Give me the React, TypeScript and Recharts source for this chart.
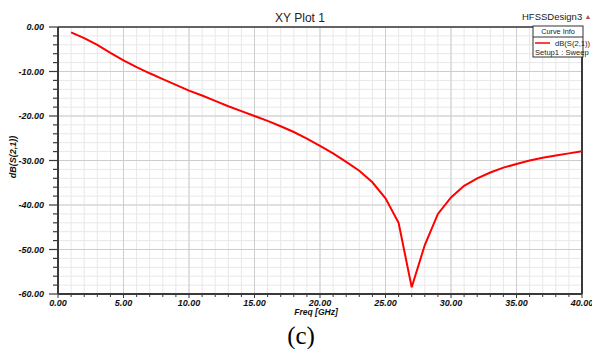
import React from 'react';
import { LineChart, Line, XAxis, YAxis, CartesianGrid, ReferenceLine } from 'recharts';

const freqGHz = [1, 2, 3, 4, 5, 6, 7, 8, 9, 10, 11, 12, 13, 14, 15, 16, 17, 18, 19, 20, 21, 22, 23, 24, 25, 26, 27, 28, 29, 30, 31, 32, 33, 34, 35, 36, 37, 38, 39, 40];
const dbS21 = [-1.2, -2.5, -4.0, -5.8, -7.5, -9.0, -10.4, -11.7, -13.0, -14.3, -15.4, -16.6, -17.8, -18.9, -20.0, -21.1, -22.3, -23.6, -25.1, -26.7, -28.4, -30.3, -32.3, -34.9, -38.5, -44.0, -58.5, -49.0, -42.0, -38.3, -35.7, -34.0, -32.7, -31.6, -30.8, -30.0, -29.4, -28.9, -28.4, -27.9];

const majorXTicks = [0, 5, 10, 15, 20, 25, 30, 35, 40];
const allXTicks = Array.from({ length: 41 }, (_, i) => i);
const majorYTicks = [-60, -50, -40, -30, -20, -10, 0];
const allYTicks = Array.from({ length: 31 }, (_, i) => -60 + i * 2);

const title = 'XY Plot 1';
const designName = 'HFSSDesign3';
const legendTitle = 'Curve Info';
const seriesName = 'dB(S(2,1))';
const setupName = 'Setup1 : Sweep';
const xLabel = 'Freq [GHz]';
const yLabel = 'dB(S(2,1))';
const caption = '(c)';

const data = freqGHz.map((f, i) => ({ f, v: dbS21[i] }));

const FONT = '"Liberation Sans", Arial, sans-serif';
const AXIS = '#3a3a3a';

const XTick = (props: any) => {
  const { x, y, payload } = props;
  const v = payload.value;
  const major = majorXTicks.includes(v);
  const axisY = y - 6;
  return (
    <g>
      <line x1={x} x2={x} y1={axisY} y2={axisY + (major ? 4 : 3)} stroke={AXIS} strokeWidth={1} />
      {major && (
        <text x={x} y={y} dy="0.71em" textAnchor="middle" fontFamily={FONT} fontSize={9} fontWeight="bold" fontStyle="italic" fill="#111">
          {v.toFixed(2)}
        </text>
      )}
    </g>
  );
};

const YTick = (props: any) => {
  const { x, y, payload } = props;
  const v = payload.value;
  const major = majorYTicks.includes(v);
  const axisX = x + 14;
  return (
    <g>
      <line x1={axisX - (major ? 9 : 5)} x2={axisX} y1={y} y2={y} stroke={AXIS} strokeWidth={1.2} />
      {major && (
        <text x={x} y={y} dy="0.355em" textAnchor="end" fontFamily={FONT} fontSize={9} fontWeight="bold" fontStyle="italic" fill="#111">
          {v.toFixed(2)}
        </text>
      )}
    </g>
  );
};

export default function App() {
  return (
    <div style={{ position: 'absolute', left: 0, top: 0, width: 592, height: 349, background: '#fff' }}>
      <LineChart width={592} height={349} data={data} margin={{ top: 27, right: 10, bottom: 25, left: 8 }}>
        <CartesianGrid stroke="#e8e8e8" strokeWidth={1} />
        {majorXTicks.map((t) => (
          <ReferenceLine key={'vx' + t} x={t} stroke="#cdcdcd" strokeWidth={1} />
        ))}
        {majorYTicks.map((t) => (
          <ReferenceLine key={'hy' + t} y={t} stroke="#cdcdcd" strokeWidth={1} />
        ))}
        <ReferenceLine y={0} stroke={AXIS} strokeWidth={1.5} />
        <ReferenceLine x={40} stroke={AXIS} strokeWidth={2} />
        <XAxis
          dataKey="f"
          type="number"
          domain={[0, 40]}
          ticks={allXTicks}
          interval={0}
          height={30}
          tickSize={4}
          tickMargin={2}
          tickLine={false}
          axisLine={{ stroke: AXIS, strokeWidth: 2 }}
          tick={<XTick />}
        />
        <YAxis
          type="number"
          domain={[-60, 0]}
          ticks={allYTicks}
          interval={0}
          width={50}
          tickSize={9}
          tickMargin={5}
          tickLine={false}
          axisLine={{ stroke: AXIS, strokeWidth: 2 }}
          tick={<YTick />}
        />
        <Line type="linear" dataKey="v" stroke="#ff0000" strokeWidth={2} dot={false} isAnimationActive={false} />
      </LineChart>
      <svg width={592} height={349} style={{ position: 'absolute', left: 0, top: 0, pointerEvents: 'none' }}>
        <text x={300} y={22} textAnchor="middle" fontFamily={FONT} fontSize={12} fill="#222">{title}</text>
        <text x={522} y={20} fontFamily={FONT} fontSize={9.5} fill="#222">{designName}</text>
        <text x={588} y={19} textAnchor="middle" fontFamily={FONT} fontSize={7} fill="#c04848">▲</text>
        <rect x={533} y={26} width={50} height={31} fill="#fff" stroke="#333" strokeWidth={1} />
        <text x={558} y={34} textAnchor="middle" fontFamily={FONT} fontSize={7.3} fill="#222">{legendTitle}</text>
        <line x1={533} x2={583} y1={37} y2={37} stroke="#333" strokeWidth={1} />
        <line x1={535} x2={550} y1={43} y2={43} stroke="#ff0000" strokeWidth={1.5} />
        <text x={555} y={45.5} fontFamily={FONT} fontSize={7.6} fill="#222">{seriesName}</text>
        <text x={535} y={54.5} fontFamily={FONT} fontSize={7.6} fill="#222">{setupName}</text>
        <text x={316} y={315} textAnchor="middle" fontFamily={FONT} fontSize={8.5} fontWeight="bold" fontStyle="italic" fill="#111">{xLabel}</text>
        <text x={16} y={157} transform="rotate(-90 16 157)" textAnchor="middle" fontFamily={FONT} fontSize={9} fontWeight="bold" fontStyle="italic" fill="#111">{yLabel}</text>
        <text x={301} y={344} textAnchor="middle" fontFamily='"Liberation Serif", "Times New Roman", serif' fontSize={25} fill="#000">{caption}</text>
      </svg>
    </div>
  );
}
